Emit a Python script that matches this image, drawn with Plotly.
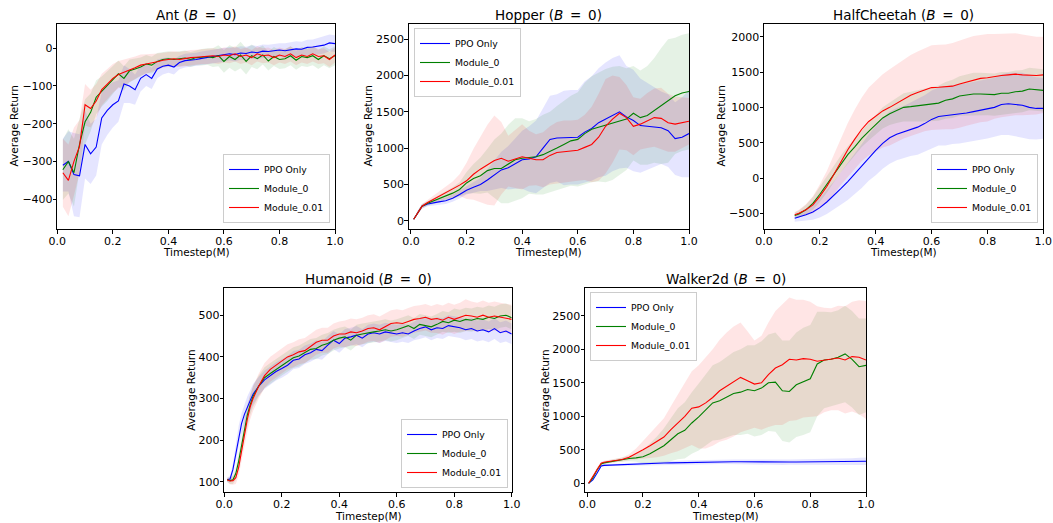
import plotly.graph_objects as go

SERIES = ["PPO Only", "Module_0", "Module_0.01"]

# ---------------- Ant ----------------
ant_x = [0.02, 0.04, 0.06, 0.08, 0.10, 0.12, 0.14, 0.16, 0.18, 0.20, 0.22, 0.24, 0.26, 0.28, 0.30,
         0.32, 0.34, 0.36, 0.38, 0.40, 0.42, 0.44, 0.46, 0.48, 0.50, 0.52, 0.54, 0.56, 0.58, 0.60,
         0.62, 0.64, 0.66, 0.68, 0.70, 0.72, 0.74, 0.76, 0.78, 0.80, 0.82, 0.84, 0.86, 0.88, 0.90,
         0.92, 0.94, 0.96, 0.98, 1.00]
ant_ppo = [-310, -300, -335, -338, -255, -280, -262, -185, -165, -150, -140, -95, -100, -110, -80,
           -70, -80, -55, -48, -45, -50, -38, -33, -32, -30, -27, -25, -22, -20, -18,
           -15, -17, -13, -14, -10, -12, -8, -9, -6, -5, -7, -4, -2, -3, 2,
           3, 5, 8, 14, 12]
ant_ppo_sd = [70, 80, 110, 110, 90, 80, 75, 70, 65, 60, 55, 50, 45, 40, 35,
              30, 28, 25, 22, 20, 20, 18, 18, 18, 18, 18, 18, 18, 18, 18,
              18, 18, 18, 18, 18, 18, 18, 18, 18, 18, 20, 20, 20, 20, 20,
              20, 22, 22, 22, 22]
ant_m0 = [-322, -300, -330, -255, -195, -170, -130, -115, -100, -85, -68, -80, -60, -55, -50,
          -42, -45, -35, -30, -28, -30, -28, -26, -30, -25, -24, -22, -25, -20, -35,
          -22, -30, -18, -35, -20, -28, -18, -34, -22, -30, -28, -20, -32, -22, -25,
          -20, -30, -20, -28, -20]
ant_m0_sd = [80, 85, 90, 70, 60, 50, 45, 40, 40, 38, 35, 32, 30, 28, 25,
             24, 22, 22, 20, 20, 20, 20, 20, 20, 20, 22, 22, 25, 28, 30,
             30, 32, 35, 35, 30, 28, 25, 25, 25, 25, 25, 25, 25, 25, 25,
             25, 25, 25, 25, 25]
ant_m001 = [-330, -350, -300, -260, -150, -160, -140, -110, -95, -80, -70, -65, -58, -52, -45,
            -42, -40, -36, -32, -30, -28, -30, -27, -25, -24, -22, -22, -20, -22, -18,
            -20, -15, -22, -18, -25, -15, -20, -18, -25, -18, -22, -15, -25, -18, -22,
            -15, -22, -20, -30, -18]
ant_m001_sd = [90, 95, 90, 70, 55, 50, 45, 42, 40, 38, 36, 34, 32, 30, 28,
               26, 24, 22, 20, 20, 20, 20, 20, 20, 20, 20, 20, 20, 20, 20,
               20, 20, 20, 20, 20, 20, 20, 20, 20, 20, 20, 20, 20, 20, 20,
               20, 20, 20, 20, 20]

# ---------------- Hopper ----------------
hop_x = [0.01, 0.025, 0.04, 0.06, 0.08, 0.10, 0.125, 0.15, 0.175, 0.20, 0.225, 0.25, 0.275, 0.30,
         0.325, 0.35, 0.375, 0.40, 0.425, 0.45, 0.475, 0.50, 0.525, 0.55, 0.575, 0.60, 0.625, 0.65,
         0.675, 0.70, 0.725, 0.75, 0.775, 0.80, 0.825, 0.85, 0.875, 0.90, 0.925, 0.95, 0.975, 1.00]
hop_ppo = [20, 120, 200, 230, 250, 260, 275, 310, 360, 420, 460, 500, 560, 630,
           700, 730, 790, 840, 850, 880, 1000, 1120, 1140, 1140, 1150, 1150, 1220, 1270,
           1350, 1400, 1460, 1500, 1430, 1380, 1310, 1300, 1290, 1280, 1240, 1130, 1150, 1200]
hop_ppo_sd = [5, 20, 30, 30, 35, 40, 45, 50, 55, 60, 70, 90, 150, 200,
              250, 300, 350, 400, 450, 500, 550, 600, 600, 650, 650, 650, 700, 720,
              750, 780, 780, 780, 700, 700, 650, 600, 550, 500, 500, 500, 550, 600]
hop_m0 = [20, 120, 200, 240, 270, 300, 340, 380, 430, 520, 580, 620, 690, 720,
          720, 780, 840, 860, 870, 880, 910, 950, 1000, 1050, 1100, 1120, 1200, 1260,
          1290, 1310, 1340, 1380, 1400, 1480, 1420, 1450, 1520, 1580, 1650, 1720, 1760, 1780]
hop_m0_sd = [5, 20, 30, 35, 40, 50, 60, 80, 100, 150, 200, 250, 300, 400,
             480, 540, 570, 550, 500, 520, 550, 550, 580, 600, 620, 650, 700, 730,
             750, 780, 780, 750, 700, 650, 650, 680, 720, 800, 850, 800, 800, 800]
hop_m001 = [20, 120, 200, 250, 290, 330, 380, 430, 490, 550, 640, 710, 770, 830,
            860, 820, 850, 880, 860, 840, 840, 900, 940, 950, 960, 970, 1010, 1050,
            1150, 1300, 1400, 1480, 1420, 1300, 1330, 1380, 1420, 1410, 1350, 1330, 1350, 1370]
hop_m001_sd = [5, 20, 30, 35, 45, 60, 80, 110, 150, 250, 350, 450, 550, 620,
               500, 350, 400, 450, 380, 350, 380, 400, 420, 430, 420, 420, 450, 520,
               600, 650, 600, 500, 450, 400, 350, 380, 400, 420, 400, 380, 350, 320]

# ---------------- HalfCheetah ----------------
hc_x = [0.11, 0.125, 0.15, 0.175, 0.20, 0.225, 0.25, 0.275, 0.30, 0.325, 0.35, 0.375, 0.40,
        0.425, 0.45, 0.475, 0.50, 0.525, 0.55, 0.575, 0.60, 0.625, 0.65, 0.675, 0.70, 0.725,
        0.75, 0.775, 0.80, 0.825, 0.85, 0.875, 0.90, 0.925, 0.95, 0.975, 1.00]
hc_ppo = [-570, -555, -520, -480, -420, -340, -250, -150, -50, 60, 170, 290, 390,
          490, 570, 620, 650, 690, 720, 770, 830, 870, 880, 900, 910, 920,
          940, 960, 980, 1000, 1040, 1050, 1040, 1030, 1000, 985, 985]
hc_ppo_sd = [50, 60, 80, 110, 140, 170, 200, 230, 260, 290, 310, 330, 350,
             360, 370, 370, 370, 380, 390, 400, 410, 410, 420, 420, 420, 420,
             420, 420, 420, 420, 430, 440, 450, 460, 450, 440, 430]
hc_m0 = [-530, -510, -450, -360, -230, -90, 60, 200, 330, 440, 560, 660, 760,
         850, 910, 960, 1000, 1010, 1020, 1030, 1040, 1060, 1100, 1120, 1160, 1180,
         1190, 1190, 1190, 1180, 1200, 1200, 1220, 1230, 1260, 1250, 1240]
hc_m0_sd = [40, 50, 70, 90, 110, 120, 120, 120, 120, 120, 120, 130, 140,
            150, 160, 180, 200, 210, 220, 230, 240, 250, 260, 270, 280, 290,
            300, 300, 300, 300, 300, 300, 300, 300, 300, 300, 300]
hc_m001 = [-520, -500, -450, -380, -260, -120, 50, 230, 400, 550, 690, 800, 880,
           950, 1000, 1060, 1120, 1170, 1210, 1250, 1280, 1285, 1290, 1300, 1330, 1360,
           1390, 1410, 1420, 1440, 1450, 1460, 1470, 1460, 1450, 1450, 1460]
hc_m001_sd = [40, 50, 80, 120, 170, 220, 280, 330, 380, 420, 450, 480, 500,
              520, 540, 550, 560, 570, 580, 590, 600, 600, 600, 610, 620, 620,
              620, 620, 620, 600, 590, 580, 580, 570, 560, 550, 540]

# ---------------- Humanoid ----------------
hum_x = [0.01, 0.02, 0.03, 0.04, 0.05, 0.06, 0.07, 0.08, 0.09, 0.10, 0.12, 0.14, 0.16, 0.18,
         0.20, 0.22, 0.24, 0.26, 0.28, 0.30, 0.32, 0.34, 0.36, 0.38, 0.40, 0.42, 0.44, 0.46,
         0.48, 0.50, 0.52, 0.54, 0.56, 0.58, 0.60, 0.62, 0.64, 0.66, 0.68, 0.70, 0.72, 0.74,
         0.76, 0.78, 0.80, 0.82, 0.84, 0.86, 0.88, 0.90, 0.92, 0.94, 0.96, 0.98, 1.00]
hum_ppo = [105, 107, 130, 170, 210, 240, 262, 280, 295, 310, 330, 345, 355, 365,
           372, 380, 392, 395, 405, 410, 418, 415, 428, 440, 432, 445, 448, 452,
           445, 455, 458, 455, 460, 458, 455, 458, 455, 462, 468, 472, 465, 470,
           468, 475, 472, 470, 465, 468, 462, 465, 460, 468, 458, 462, 455]
hum_ppo_sd = [5, 8, 15, 20, 25, 25, 25, 25, 25, 25, 22, 22, 22, 22,
              22, 22, 22, 22, 22, 22, 22, 22, 22, 22, 22, 22, 22, 22,
              22, 22, 22, 22, 22, 22, 22, 22, 22, 22, 25, 25, 25, 25,
              25, 25, 25, 25, 25, 25, 25, 25, 25, 25, 25, 25, 25]
hum_m0 = [105, 103, 105, 120, 150, 190, 230, 260, 285, 305, 330, 350, 360, 370,
          380, 390, 398, 402, 410, 418, 420, 428, 432, 440, 445, 448, 440, 452,
          455, 458, 460, 462, 465, 462, 465, 470, 475, 468, 478, 475, 472, 478,
          485, 482, 488, 485, 490, 488, 492, 490, 495, 492, 498, 500, 494]
hum_m0_sd = [5, 8, 10, 15, 20, 25, 25, 25, 25, 25, 25, 25, 25, 25,
             25, 25, 25, 25, 25, 25, 25, 25, 25, 25, 25, 25, 25, 25,
             25, 25, 25, 25, 25, 25, 25, 25, 25, 25, 25, 25, 25, 25,
             25, 25, 28, 28, 28, 28, 28, 28, 28, 28, 28, 28, 28]
hum_m001 = [105, 102, 103, 110, 135, 175, 215, 250, 280, 300, 330, 355, 370, 380,
            390, 400, 405, 412, 415, 425, 435, 440, 440, 450, 455, 455, 460, 458,
            462, 468, 470, 465, 472, 480, 482, 480, 485, 490, 492, 495, 490, 492,
            488, 495, 490, 495, 500, 498, 495, 500, 495, 498, 495, 492, 490]
hum_m001_sd = [5, 8, 10, 15, 20, 25, 28, 30, 30, 30, 30, 30, 30, 30,
               30, 30, 30, 30, 30, 30, 30, 30, 30, 30, 30, 32, 32, 32,
               32, 32, 32, 32, 32, 32, 32, 32, 32, 32, 32, 32, 32, 35,
               35, 35, 35, 35, 38, 35, 35, 35, 35, 35, 35, 35, 35]

# ---------------- Walker2d ----------------
wk_x = [0.005, 0.02, 0.035, 0.05, 0.06, 0.08, 0.10, 0.125, 0.15, 0.175, 0.20, 0.225, 0.25,
        0.275, 0.30, 0.325, 0.35, 0.375, 0.40, 0.425, 0.45, 0.475, 0.50, 0.525, 0.55, 0.575,
        0.60, 0.625, 0.65, 0.675, 0.70, 0.725, 0.75, 0.775, 0.80, 0.825, 0.85, 0.875, 0.90,
        0.925, 0.95, 0.975, 1.00]
wk_ppo = [0, 50, 150, 260, 268, 272, 275, 280, 285, 290, 295, 298, 300,
          302, 305, 308, 310, 312, 315, 318, 320, 322, 323, 322, 322, 320,
          320, 318, 318, 317, 315, 317, 318, 320, 320, 320, 320, 320, 322,
          322, 325, 328, 330]
wk_ppo_sd = [5, 10, 15, 15, 15, 15, 15, 18, 20, 22, 25, 25, 28,
             28, 30, 30, 30, 32, 32, 35, 35, 35, 35, 35, 35, 35,
             35, 38, 40, 40, 40, 40, 40, 40, 42, 42, 45, 45, 45,
             48, 50, 52, 55]
wk_m0 = [0, 80, 200, 290, 305, 320, 340, 355, 370, 380, 395, 440, 500,
         560, 650, 740, 790, 900, 990, 1100, 1200, 1230, 1290, 1340, 1360, 1400,
         1380, 1420, 1500, 1510, 1380, 1370, 1470, 1520, 1560, 1780, 1840, 1850, 1880,
         1930, 1850, 1740, 1760]
wk_m0_sd = [5, 15, 20, 20, 20, 20, 25, 30, 40, 60, 100, 150, 200,
            260, 320, 380, 420, 460, 500, 530, 560, 580, 600, 620, 640, 660,
            680, 700, 720, 740, 750, 760, 780, 800, 800, 780, 720, 700, 700,
            720, 720, 720, 700]
wk_m001 = [0, 100, 220, 300, 315, 330, 340, 355, 390, 440, 500, 560, 620,
           690, 800, 900, 1000, 1120, 1140, 1200, 1280, 1380, 1450, 1520, 1580, 1530,
           1480, 1500, 1620, 1720, 1770, 1850, 1840, 1860, 1850, 1820, 1840, 1850, 1870,
           1840, 1890, 1880, 1840]
wk_m001_sd = [5, 15, 20, 20, 20, 20, 25, 30, 45, 80, 130, 180, 230,
              280, 350, 420, 480, 550, 620, 680, 720, 760, 800, 820, 820, 740,
              650, 700, 780, 850, 900, 920, 900, 880, 860, 820, 780, 760, 780,
              800, 820, 850, 880]

LINE_COLORS = ["#0000ff", "#008000", "#ff0000"]
FILL_COLORS = ["rgba(0,0,255,0.10)", "rgba(0,128,0,0.10)", "rgba(255,0,0,0.10)"]
FONT = "DejaVu Sans"
W, H = 1053, 523

panels = [
    dict(name="Ant", x=ant_x, means=[ant_ppo, ant_m0, ant_m001], sds=[ant_ppo_sd, ant_m0_sd, ant_m001_sd],
         px=(57.3, 335), py=(24, 229), xr=[0, 1.0], yr=[-479, 64], ytick=100, ylo=-400,
         ytx=14, xty=252.5, tty=15,
         leg=dict(x=330, y=223, xa="right", ya="bottom")),
    dict(name="Hopper", x=hop_x, means=[hop_ppo, hop_m0, hop_m001], sds=[hop_ppo_sd, hop_m0_sd, hop_m001_sd],
         px=(408.7, 689), py=(24, 229), xr=[-0.008, 1.0], yr=[-114, 2709], ytick=500, ylo=0,
         ytx=368, xty=252.5, tty=15,
         leg=dict(x=414, y=28, xa="left", ya="top")),
    dict(name="HalfCheetah", x=hc_x, means=[hc_ppo, hc_m0, hc_m001], sds=[hc_ppo_sd, hc_m0_sd, hc_m001_sd],
         px=(764, 1043.3), py=(24, 229), xr=[0, 1.0], yr=[-722, 2180], ytick=500, ylo=-500,
         ytx=721, xty=252.5, tty=15,
         leg=dict(x=1038, y=223, xa="right", ya="bottom")),
    dict(name="Humanoid", x=hum_x, means=[hum_ppo, hum_m0, hum_m001], sds=[hum_ppo_sd, hum_m0_sd, hum_m001_sd],
         px=(224.3, 511.7), py=(287.7, 492.3), xr=[0, 1.0], yr=[75, 566], ytick=100, ylo=100,
         ytx=190.7, xty=516, tty=279,
         leg=dict(x=508, y=488, xa="right", ya="bottom")),
    dict(name="Walker2d", x=wk_x, means=[wk_ppo, wk_m0, wk_m001], sds=[wk_ppo_sd, wk_m0_sd, wk_m001_sd],
         px=(585, 866), py=(287.7, 492.3), xr=[-0.008, 1.0], yr=[-134, 2918], ytick=500, ylo=0,
         ytx=544.7, xty=516, tty=279,
         leg=dict(x=590, y=292, xa="left", ya="top")),
]

fig = go.Figure()
layout = dict(width=W, height=H, margin=dict(l=0, r=0, t=0, b=0, autoexpand=False),
              paper_bgcolor="white", plot_bgcolor="white",
              font=dict(family=FONT, color="black", size=10.5), showlegend=True)
annotations = []

for i, p in enumerate(panels):
    k = "" if i == 0 else str(i + 1)
    xa, ya = "x" + k, "y" + k
    leg = "legend" + k
    x = p["x"]
    for j in range(3):
        m, s = p["means"][j], p["sds"][j]
        up = [a + b for a, b in zip(m, s)]
        lo = [a - b for a, b in zip(m, s)]
        fig.add_trace(go.Scatter(x=x + x[::-1], y=up + lo[::-1], fill="toself",
                                 fillcolor=FILL_COLORS[j], line=dict(width=0), mode="lines",
                                 hoverinfo="skip", showlegend=False, xaxis=xa, yaxis=ya,
                                 legend=leg))
    for j in range(3):
        fig.add_trace(go.Scatter(x=x, y=p["means"][j], mode="lines", name=SERIES[j],
                                 line=dict(color=LINE_COLORS[j], width=1.1),
                                 xaxis=xa, yaxis=ya, legend=leg, showlegend=True))
    x0, x1 = p["px"]
    y0, y1 = p["py"]
    ax_common = dict(showline=True, linecolor="black", linewidth=1, mirror=True,
                     ticks="outside", ticklen=3.5, tickwidth=1, tickcolor="black",
                     showgrid=False, zeroline=False, automargin=False, ticklabelstandoff=-2,
                     tickfont=dict(family=FONT, size=11, color="black"))
    layout["xaxis" + k] = dict(ax_common, domain=[x0 / W, x1 / W], range=p["xr"],
                               anchor=ya, tick0=0, dtick=0.2, tickformat=".1f")
    layout["yaxis" + k] = dict(ax_common, domain=[1 - y1 / H, 1 - y0 / H], range=p["yr"],
                               anchor=xa, tick0=p["ylo"], dtick=p["ytick"])
    lg = p["leg"]
    layout[leg] = dict(x=lg["x"] / W, y=1 - lg["y"] / H, xanchor=lg["xa"], yanchor=lg["ya"],
                       xref="paper", yref="paper",
                       bgcolor="rgba(255,255,255,0.8)", bordercolor="#cccccc", borderwidth=1,
                       font=dict(family=FONT, size=9.3, color="black"), itemwidth=30,
                       tracegroupgap=0)
    annotations.append(dict(text=p["name"] + " (<i>B</i>\u2002=\u20020)", x=(x0 + x1) / 2 / W,
                            y=1 - p["tty"] / H, xref="paper", yref="paper", xanchor="center",
                            yanchor="middle", showarrow=False,
                            font=dict(family=FONT, size=13.5, color="black")))
    annotations.append(dict(text="Timestep(M)", x=(x0 + x1) / 2 / W, y=1 - p["xty"] / H,
                            xref="paper", yref="paper", xanchor="center", yanchor="middle",
                            showarrow=False, font=dict(family=FONT, size=10.5, color="black")))
    annotations.append(dict(text="Average Return", x=p["ytx"] / W, y=1 - (y0 + y1) / 2 / H,
                            xref="paper", yref="paper", xanchor="center", yanchor="middle",
                            textangle=-90, showarrow=False,
                            font=dict(family=FONT, size=10.5, color="black")))

layout["annotations"] = annotations
fig.update_layout(**layout)
fig.write_html("out.html", config={"displayModeBar": False},
               post_script="document.body.style.margin='0px';document.body.style.overflow='hidden';")
